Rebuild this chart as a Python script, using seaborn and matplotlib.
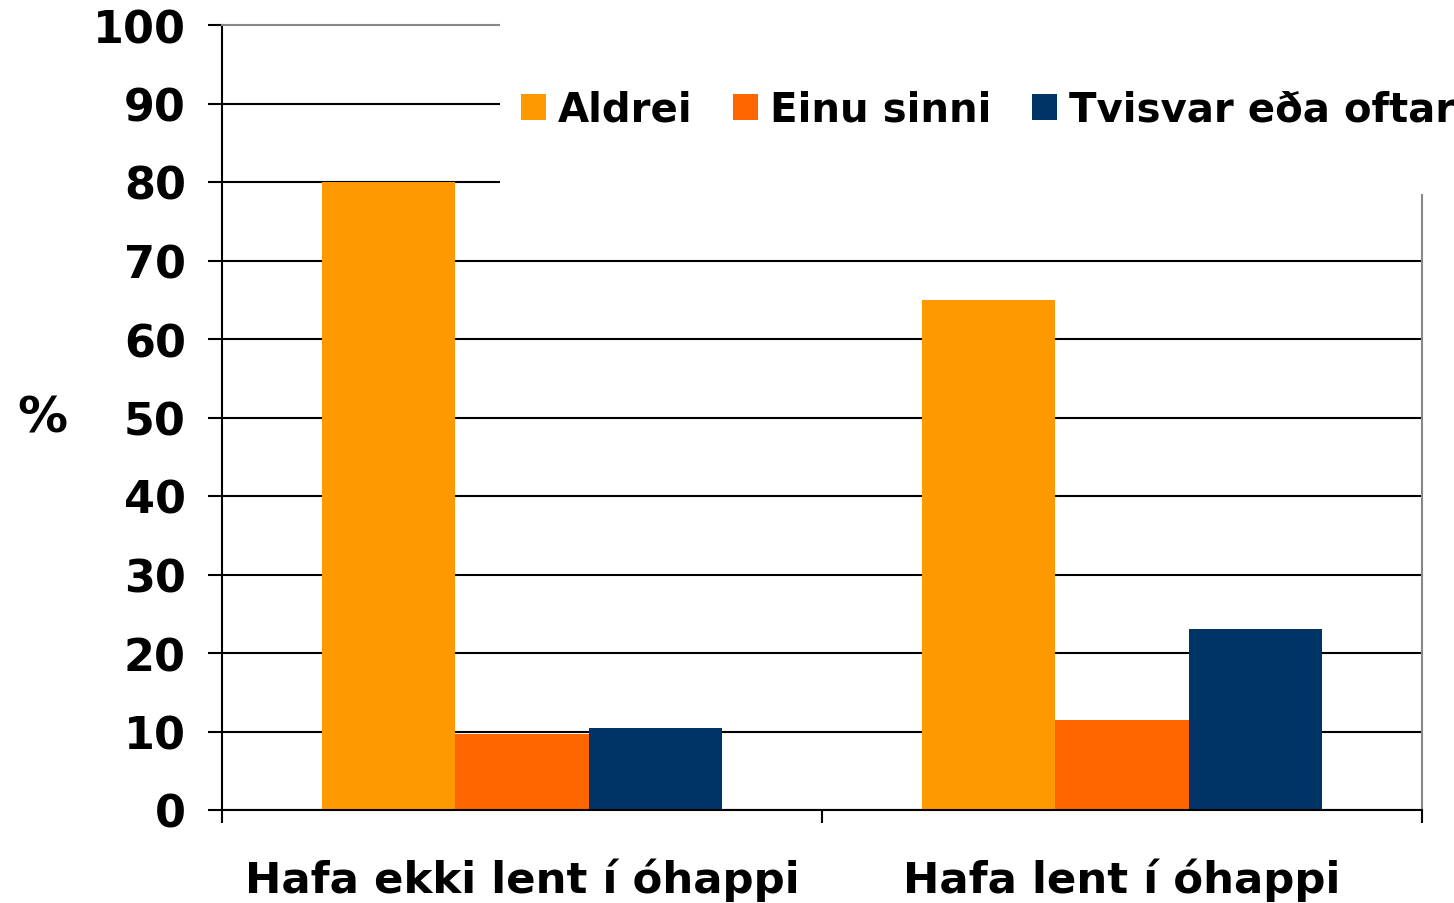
import matplotlib
matplotlib.use("Agg")
import matplotlib.pyplot as plt
from matplotlib.patches import Rectangle
from matplotlib.ticker import FixedLocator
import seaborn as sns
import pandas as pd

# data
groups = ["Hafa ekki lent í óhappi", "Hafa lent í óhappi"]
answers = ["Aldrei", "Einu sinni", "Tvisvar eða oftar"]
aldrei = [80.0, 65.0]
einu_sinni = [9.7, 11.5]
tvisvar = [10.5, 23.0]
colors = ["#FF9900", "#FF6600", "#003366"]

rows = []
for ans, vals in zip(answers, [aldrei, einu_sinni, tvisvar]):
    for g, v in zip(groups, vals):
        rows.append({"Hópur": g, "Svar": ans, "Hlutfall": v})
df = pd.DataFrame(rows)

sns.set_theme(style="white")
plt.rcParams['font.family'] = ['DejaVu Sans']
plt.rcParams['font.weight'] = 'bold'
plt.rcParams['text.color'] = 'black'
plt.rcParams['xtick.color'] = 'black'
plt.rcParams['ytick.color'] = 'black'
plt.rcParams['axes.labelcolor'] = 'black'

W, H = 1454, 904
fig = plt.figure(figsize=(W / 100, H / 100), dpi=100)
ax = fig.add_axes([222 / W, 93 / H, 1200 / W, 785 / H])

sns.barplot(data=df, x="Hópur", y="Hlutfall", hue="Svar", order=groups,
            hue_order=answers, palette=colors, width=0.667, saturation=1,
            linewidth=0, ax=ax)
handles, labels = ax.get_legend_handles_labels()
ax.get_legend().remove()

ax.set_xlim(-0.5, 1.5)
ax.set_ylim(0, 100)
ax.set_yticks(range(0, 101, 10))
ax.set_xlabel("")
ax.set_ylabel("%", rotation=0, fontsize=36, fontweight='bold')
ax.yaxis.set_label_coords(-0.15, 0.5)
ax.yaxis.label.set_va('center')
ax.yaxis.label.set_ha('center')

# gridlines
ax.grid(axis='y', color='black', linewidth=1.5)
ax.set_axisbelow(True)
ax.yaxis.get_gridlines()[-1].set_visible(False)

# ticks
ax.tick_params(axis='y', which='major', direction='out', length=10, width=1.5,
               color='black', left=True, labelsize=32, pad=16)
ax.xaxis.set_minor_locator(FixedLocator([-0.5, 0.5, 1.5]))
ax.tick_params(axis='x', which='minor', direction='out', length=9, width=1.5,
               color='black', bottom=True)
ax.tick_params(axis='x', which='major', length=0, labelsize=31.3, pad=34)
for lab in ax.get_xticklabels() + ax.get_yticklabels():
    lab.set_fontweight('bold')

for side in ['left', 'bottom']:
    ax.spines[side].set_color('black')
    ax.spines[side].set_linewidth(1.5)
for side in ['top', 'right']:
    ax.spines[side].set_color('#888888')
    ax.spines[side].set_linewidth(1.5)

# white legend area covering the top right of the plot
fig.patches.append(Rectangle((500 / W, 1 - 195 / H), 1, 195 / H,
                             transform=fig.transFigure, facecolor='white',
                             edgecolor='none', zorder=1))
fig.legend(handles, labels, loc='center left', ncol=3, frameon=False,
           bbox_to_anchor=(521 / W, 1 - 111 / H), borderpad=0,
           borderaxespad=0, prop={'size': 29, 'weight': 'bold'},
           handlelength=0.62, handleheight=0.62, handletextpad=0.3,
           columnspacing=1.0)

fig.savefig("out.png", dpi=100)
